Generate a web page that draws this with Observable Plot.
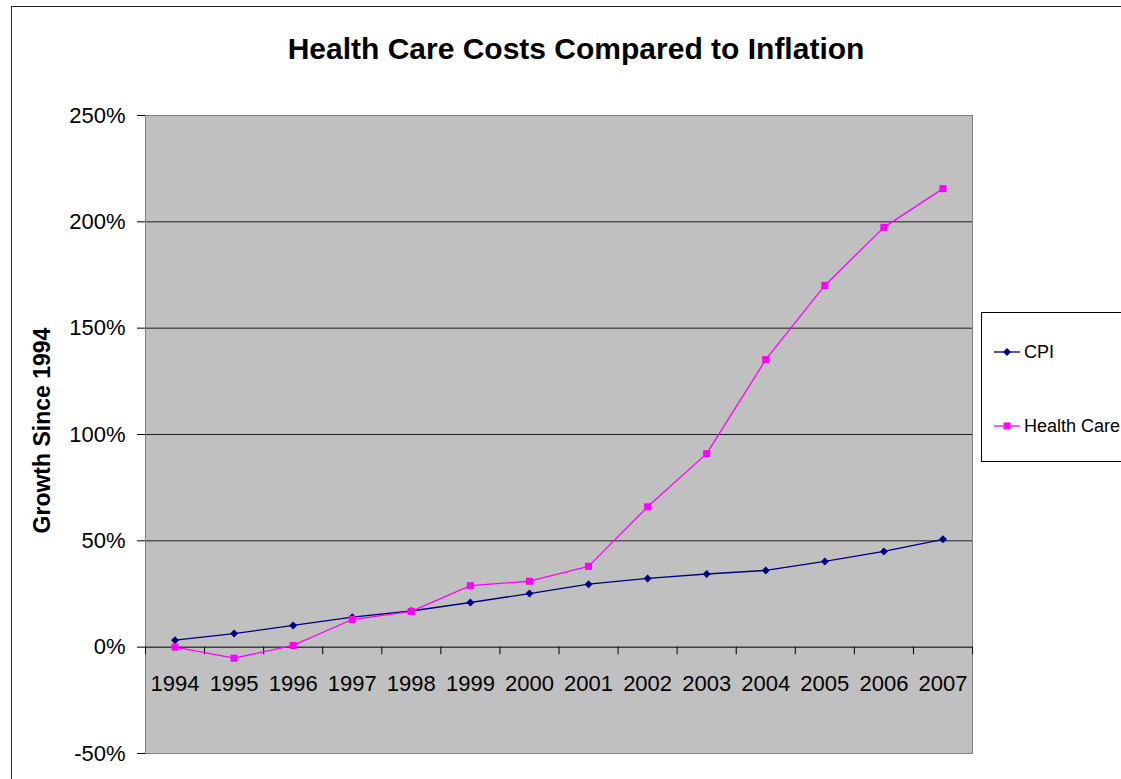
<!DOCTYPE html>
<html>
<head>
<meta charset="utf-8">
<script src="https://cdn.jsdelivr.net/npm/d3@7"></script>
<script src="https://cdn.jsdelivr.net/npm/@observablehq/plot@0.6"></script>
<style>
  html, body { margin: 0; padding: 0; background: #fff; overflow: hidden; width: 1121px; height: 779px; }
  #wrap { position: relative; width: 1121px; height: 779px; font-family: Arial, "Liberation Sans", sans-serif; }
  #outer { position: absolute; left: 11px; top: 6px; width: 1200px; height: 900px; border-left: 1px solid #222; border-top: 1px solid #222; box-sizing: border-box; }
  #chart { position: absolute; left: 0; top: 0; }
  #legend { position: absolute; left: 981px; top: 312px; width: 160px; height: 150px; border: 1px solid #000; background: #fff; box-sizing: border-box; }
  .item { position: absolute; left: 12px; display: flex; align-items: center; font-size: 18px; color: #000; white-space: nowrap; }
  .item span { margin-left: 4px; }
</style>
</head>
<body>
<div id="wrap">
  <div id="outer"></div>
  <div id="chart"></div>
  <div id="legend"></div>
</div>
<script>
const title = "Health Care Costs Compared to Inflation";
const yTitle = "Growth Since 1994";
const years = [1994, 1995, 1996, 1997, 1998, 1999, 2000, 2001, 2002, 2003, 2004, 2005, 2006, 2007];
const cpi = [3.3, 6.4, 10.2, 14.1, 17.0, 21.0, 25.2, 29.6, 32.3, 34.4, 36.1, 40.3, 45.0, 50.7];
const health = [0, -5.2, 0.8, 13.0, 16.8, 28.9, 31.0, 38.0, 66.0, 91.0, 135.2, 170.1, 197.4, 215.6];
const seriesNames = ["CPI", "Health Care"];
const seriesColors = ["#000080", "#FF00FF"];
const yTicks = [-50, 0, 50, 100, 150, 200, 250];
const gridValues = [50, 100, 150, 200];

const cpiData = years.map((y, i) => ({year: y, value: cpi[i]}));
const healthData = years.map((y, i) => ({year: y, value: health[i]}));
const bounds = years.map(y => y - 0.5).concat([years[years.length - 1] + 0.5]);

const font = 'Arial, "Liberation Sans", sans-serif';

const plot = Plot.plot({
  width: 1121,
  height: 779,
  marginLeft: 145,
  marginRight: 149,
  marginTop: 115,
  marginBottom: 26,
  style: {fontFamily: font, fontSize: "22px", color: "#000", background: "transparent", overflow: "visible"},
  x: {domain: [years[0] - 0.5, years[years.length - 1] + 0.5], axis: null},
  y: {domain: [-50, 250], ticks: yTicks, tickFormat: d => `${d}%`, tickSize: 8, tickPadding: 12, label: null},
  marks: [
    Plot.frame({fill: "#C0C0C0", stroke: null}),
    Plot.ruleY(gridValues, {stroke: "#000", strokeWidth: 1, strokeOpacity: 0.85}),
    Plot.frame({stroke: "#808080", strokeWidth: 1}),
    Plot.ruleY([0], {stroke: "#000", strokeWidth: 1}),
    Plot.ruleX(bounds, {x: d => d, y1: 0, y2: -3.6, stroke: "#000"}),
    Plot.text(years, {x: d => d, y: 0, dy: 37, text: d => String(d), fontSize: 22, fill: "#000"}),
    Plot.line(cpiData, {x: "year", y: "value", stroke: seriesColors[0], strokeWidth: 1.3}),
    Plot.dot(cpiData, {x: "year", y: "value", symbol: "diamond2", r: 3.6, fill: seriesColors[0], stroke: null}),
    Plot.line(healthData, {x: "year", y: "value", stroke: seriesColors[1], strokeWidth: 1.3}),
    Plot.dot(healthData, {x: "year", y: "value", symbol: "square", r: 4, fill: seriesColors[1], stroke: null}),
    Plot.text([yTitle], {frameAnchor: "left", textAnchor: "middle", rotate: -90, dx: -103, dy: -4, fontWeight: "bold", fontSize: 23, fill: "#000"}),
    Plot.text([title], {frameAnchor: "top", dx: 17, dy: -78, fontWeight: "bold", fontSize: 30, fill: "#000"})
  ]
});
document.getElementById("chart").appendChild(plot);

// Legend
const legend = document.getElementById("legend");
const itemTops = [39, 113];
const symbols = ["diamond", "square"];
seriesNames.forEach((name, i) => {
  const item = document.createElement("div");
  item.className = "item";
  item.style.top = (itemTops[i] - 12) + "px";
  const svg = d3.create("svg").attr("width", 26).attr("height", 24);
  svg.append("line").attr("x1", 0).attr("x2", 26).attr("y1", 12).attr("y2", 12)
    .attr("stroke", seriesColors[i]).attr("stroke-width", 1.3);
  if (symbols[i] === "square") {
    svg.append("rect").attr("x", 9.5).attr("y", 8.5).attr("width", 7).attr("height", 7).attr("fill", seriesColors[i]);
  } else {
    svg.append("path").attr("d", "M13,8L17,12L13,16L9,12Z").attr("fill", seriesColors[i]);
  }
  item.appendChild(svg.node());
  const span = document.createElement("span");
  span.textContent = name;
  item.appendChild(span);
  legend.appendChild(item);
});
</script>
</body>
</html>
